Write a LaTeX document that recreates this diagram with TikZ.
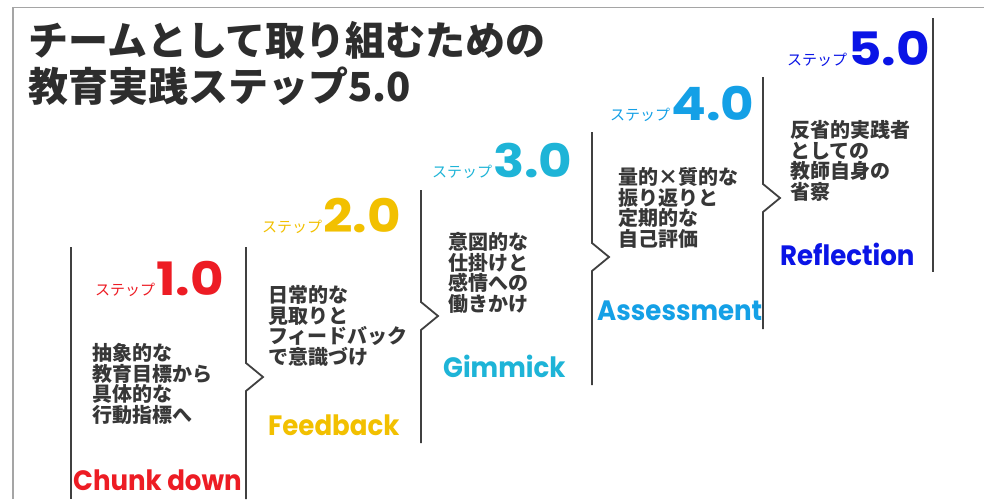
\documentclass[tikz,border=0pt]{standalone}
\usepackage{fontspec}
\setmainfont{Noto Sans CJK JP}
\newfontfamily\cjk{Noto Sans CJK JP}
\newfontfamily\enlab[FakeStretch=0.93]{Poppins}
\newfontfamily\endig[FakeStretch=1.12]{Poppins}
\definecolor{sa}{RGB}{237,28,36}
\definecolor{sb}{RGB}{242,192,0}
\definecolor{sc}{RGB}{30,180,215}
\definecolor{sd}{RGB}{20,160,230}
\definecolor{se}{RGB}{10,20,230}
\definecolor{txt}{RGB}{55,55,55}
\definecolor{ttl}{RGB}{45,45,45}
\definecolor{ln}{RGB}{64,64,64}
\definecolor{frm}{RGB}{165,165,165}
\newcommand\stephd[1]{{\cjk\fontsize{15}{15}\selectfont ステップ}\hspace{1pt}{\endig\bfseries\fontsize{46}{46}\selectfont #1}}
\begin{document}
\begin{tikzpicture}[x=1pt,y=-1pt,
  stepline/.style={draw=ln, line width=1.8pt, line join=miter},
  frameline/.style={draw=frm, line width=1.2pt},
  head/.style={anchor=base west, inner sep=0pt},
  body/.style={anchor=north west, inner sep=0pt, align=left, text=txt, font=\cjk\bfseries\fontsize{20}{20.7}\selectfont},
  engl/.style={anchor=west, inner sep=0pt, font=\enlab\bfseries\fontsize{28}{28}\selectfont},
  ttlstyle/.style={anchor=base west, inner sep=0pt, text=ttl, font=\cjk\bfseries\fontsize{40}{40}\selectfont}]
\useasboundingbox[fill=white] (0,0) rectangle (984,499);
% frame
\coordinate (fbl) at (13,499);
\coordinate (ftl) at (13,7.5);
\coordinate (ftr) at (984,7.5);
\draw[frameline] (fbl) -- (ftl) -- (ftr);
% title
\node[ttlstyle] (title1) at (28,55) {チームとして取り組むための};
\node[ttlstyle] (title2) at (28,101) {教育実践ステップ5.0};
% step lines
\draw[stepline] (71,247) -- (71,499);
\draw[stepline] (246,247) -- (246,363) -- (263,377) -- (246,391) -- (246,499);
\draw[stepline] (421,190) -- (421,302) -- (438,316) -- (421,330) -- (421,443);
\draw[stepline] (592,132) -- (592,243) -- (609,257) -- (592,271) -- (592,385);
\draw[stepline] (763,77) -- (763,184) -- (780,198) -- (763,212) -- (763,329);
\draw[stepline] (933,18) -- (933,272);
% headings
\node[head, text=sa] (h1) at (95,295) {\stephd{1.0}};
\node[head, text=sb] (h2) at (262,232) {\stephd{2.0}};
\node[head, text=sc] (h3) at (432,177) {\stephd{3.0}};
\node[head, text=sd] (h4) at (610,120) {\stephd{4.0}};
\node[head, text=se] (h5) at (787,65) {\stephd{5.0}};
% bodies
\node[body] (b1) at (92,343) {抽象的な\\教育目標から\\具体的な\\行動指標へ};
\node[body] (b2) at (268,285) {日常的な\\見取りと\\フィードバック\\で意識づけ};
\node[body] (b3) at (448,232) {意図的な\\仕掛けと\\感情への\\働きかけ};
\node[body] (b4) at (618,167) {量的×質的な\\振り返りと\\定期的な\\自己評価};
\node[body] (b5) at (790,120) {反省的実践者\\としての\\教師自身の\\省察};
% english labels
\node[engl, text=sa] (e1) at (73,480) {Chunk down};
\node[engl, text=sb] (e2) at (268,425) {Feedback};
\node[engl, text=sc] (e3) at (443,366) {Gimmick};
\node[engl, text=sd] (e4) at (597,311) {Assessment};
\node[engl, text=se] (e5) at (780,254) {Reflection};
\end{tikzpicture}
\end{document}
